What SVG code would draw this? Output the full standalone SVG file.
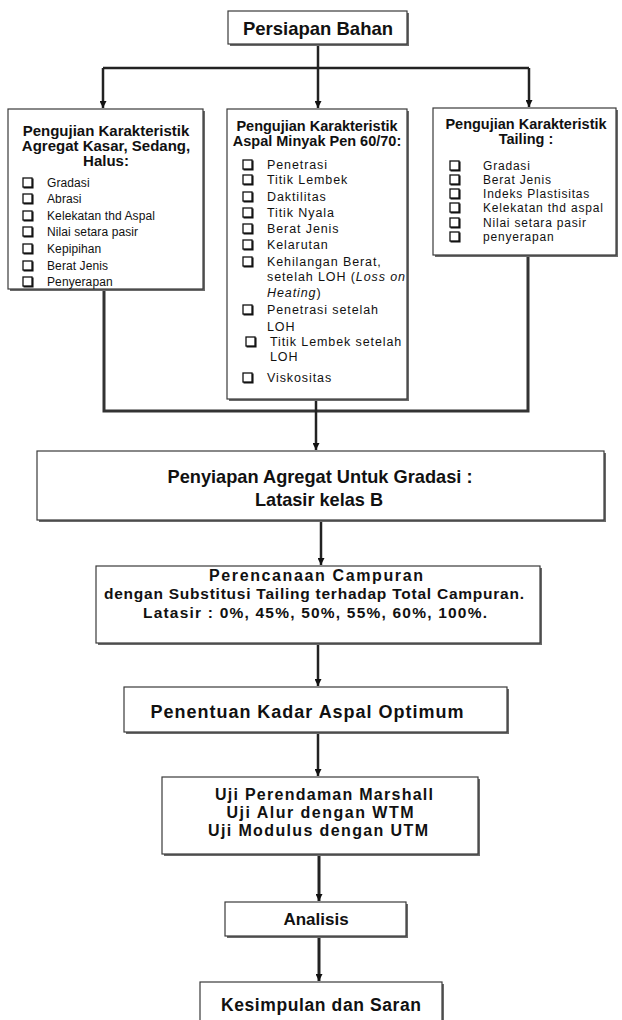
<svg xmlns="http://www.w3.org/2000/svg" width="622" height="1020" viewBox="0 0 622 1020">
<style>
.box{fill:#fff;stroke:#3a3a3a;stroke-width:1.2}
.sh{fill:#6a6a6a}
.h{font-family:"Liberation Sans",Arial,sans-serif;font-weight:bold;fill:#111;text-anchor:middle}
.it{font-family:"Liberation Sans",Arial,sans-serif;fill:#111}
.l{font-size:12px;letter-spacing:0.1px}
.m{font-size:12.5px;letter-spacing:0.9px}
.r{font-size:12px;letter-spacing:0.8px}
.ln{fill:none;stroke:#222;stroke-width:2.5}
.cb{fill:none;stroke:#111;stroke-width:1.3}
</style>
<defs>
<marker id="ah" viewBox="0 0 8 8" refX="8" refY="4" markerWidth="7" markerHeight="7" markerUnits="userSpaceOnUse" orient="auto">
<path d="M0,0 L8,4 L0,8 z" fill="#111"/>
</marker>
<g id="cb">
<rect class="cb" x="0" y="0" width="9" height="9"/>
<path d="M0.5 9.8 H9.8 V0.5" fill="none" stroke="#111" stroke-width="1.5"/>
</g>
</defs>

<g id="connectors">
<path class="ln" d="M318 44 V68"/>
<path class="ln" d="M103 68 H529"/>
<path class="ln" d="M103 68 V108" marker-end="url(#ah)"/>
<path class="ln" d="M318 68 V108" marker-end="url(#ah)"/>
<path class="ln" d="M529 68 V107" marker-end="url(#ah)"/>
<path class="ln" d="M104 291 V411 H528 V257" style="stroke:#333;stroke-width:3"/>
<path class="ln" d="M316 400 V450" marker-end="url(#ah)"/>
<path class="ln" d="M321 521 V565" marker-end="url(#ah)"/>
<path class="ln" d="M318 644 V686" marker-end="url(#ah)"/>
<path class="ln" d="M318 733 V776" marker-end="url(#ah)"/>
<path class="ln" d="M319 855 V901" style="stroke-width:3" marker-end="url(#ah)"/>
<path class="ln" d="M319 937 V981" style="stroke-width:3" marker-end="url(#ah)"/>
</g>

<g id="persiapan">
<rect class="sh" x="230" y="13" width="179" height="33"/>
<rect class="box" x="228" y="11" width="179" height="33"/>
<text class="h" x="318" y="35" font-size="19" textLength="150" lengthAdjust="spacingAndGlyphs">Persiapan Bahan</text>
</g>

<g id="agregat">
<rect class="sh" x="10" y="111" width="195" height="180"/>
<rect class="box" x="8" y="109" width="195" height="180"/>
<text class="h" x="106" y="136" font-size="15">Pengujian Karakteristik</text>
<text class="h" x="106" y="151" font-size="15">Agregat Kasar, Sedang,</text>
<text class="h" x="106" y="166" font-size="15">Halus:</text>
<use href="#cb" x="23" y="178"/><text class="it l" x="47" y="187">Gradasi</text>
<use href="#cb" x="23" y="194"/><text class="it l" x="47" y="203">Abrasi</text>
<use href="#cb" x="23" y="211"/><text class="it l" x="47" y="220">Kelekatan thd Aspal</text>
<use href="#cb" x="23" y="227"/><text class="it l" x="47" y="236">Nilai setara pasir</text>
<use href="#cb" x="23" y="244"/><text class="it l" x="47" y="253">Kepipihan</text>
<use href="#cb" x="23" y="261"/><text class="it l" x="47" y="270">Berat Jenis</text>
<use href="#cb" x="23" y="277"/><text class="it l" x="47" y="286">Penyerapan</text>
</g>

<g id="aspal">
<rect class="sh" x="229" y="111" width="180" height="290"/>
<rect class="box" x="227" y="109" width="180" height="290"/>
<text class="h" x="317" y="131" font-size="14.5">Pengujian Karakteristik</text>
<text class="h" x="317" y="146" font-size="14.5">Aspal Minyak Pen 60/70:</text>
<use href="#cb" x="243" y="160"/><text class="it m" x="267" y="169.4">Penetrasi</text>
<use href="#cb" x="243" y="175"/><text class="it m" x="267" y="184.4">Titik Lembek</text>
<use href="#cb" x="243" y="192"/><text class="it m" x="267" y="201.4">Daktilitas</text>
<use href="#cb" x="243" y="208"/><text class="it m" x="267" y="217.4">Titik Nyala</text>
<use href="#cb" x="243" y="224"/><text class="it m" x="267" y="233.4">Berat Jenis</text>
<use href="#cb" x="243" y="240"/><text class="it m" x="267" y="249.4">Kelarutan</text>
<use href="#cb" x="243" y="257"/><text class="it m" x="267" y="266.4">Kehilangan Berat,</text>
<text class="it m" x="267" y="281.4">setelah LOH (<tspan font-style="italic">Loss on</tspan></text>
<text class="it m" x="267" y="297.4"><tspan font-style="italic">Heating</tspan>)</text>
<use href="#cb" x="243" y="305"/><text class="it m" x="267" y="314.4">Penetrasi setelah</text>
<text class="it m" x="267" y="331.4">LOH</text>
<use href="#cb" x="246" y="337"/><text class="it m" x="270" y="346.4">Titik Lembek setelah</text>
<text class="it m" x="270" y="361.4">LOH</text>
<use href="#cb" x="243" y="373"/><text class="it m" x="267" y="382.4">Viskositas</text>
</g>

<g id="tailing">
<rect class="sh" x="435" y="110" width="183" height="147"/>
<rect class="box" x="433" y="108" width="183" height="147"/>
<text class="h" x="526" y="129" font-size="14.5">Pengujian Karakteristik</text>
<text class="h" x="526" y="144" font-size="14.5">Tailing :</text>
<use href="#cb" x="450" y="161"/><text class="it r" x="483" y="170.2">Gradasi</text>
<use href="#cb" x="450" y="175"/><text class="it r" x="483" y="184.2">Berat Jenis</text>
<use href="#cb" x="450" y="189"/><text class="it r" x="483" y="198.2">Indeks Plastisitas</text>
<use href="#cb" x="450" y="203"/><text class="it r" x="483" y="212.2">Kelekatan thd aspal</text>
<use href="#cb" x="450" y="218"/><text class="it r" x="483" y="227.2">Nilai setara pasir</text>
<use href="#cb" x="450" y="232"/><text class="it r" x="483" y="241.2">penyerapan</text>
</g>

<g id="penyiapan">
<rect class="sh" x="39" y="453" width="567" height="69"/>
<rect class="box" x="37" y="451" width="567" height="69"/>
<text class="h" x="320" y="483" font-size="19" textLength="305" lengthAdjust="spacingAndGlyphs">Penyiapan Agregat Untuk Gradasi :</text>
<text class="h" x="319" y="506" font-size="19" textLength="128" lengthAdjust="spacingAndGlyphs">Latasir kelas B</text>
</g>

<g id="perencanaan">
<rect class="sh" x="98" y="568" width="444" height="77"/>
<rect class="box" x="96" y="566" width="444" height="77"/>
<text class="h" x="316" y="581" font-size="16" textLength="214" lengthAdjust="spacing">Perencanaan Campuran</text>
<text class="h" x="314" y="598.5" font-size="15.5" textLength="420" lengthAdjust="spacing">dengan Substitusi Tailing terhadap Total Campuran.</text>
<text class="h" x="315" y="617.5" font-size="15.5" textLength="344" lengthAdjust="spacing">Latasir : 0%, 45%, 50%, 55%, 60%, 100%.</text>
</g>

<g id="penentuan">
<rect class="sh" x="126" y="689" width="383" height="45"/>
<rect class="box" x="124" y="687" width="383" height="45"/>
<text class="h" x="307" y="718" font-size="18" textLength="313" lengthAdjust="spacing">Penentuan Kadar Aspal Optimum</text>
</g>

<g id="uji">
<rect class="sh" x="164" y="779" width="316" height="77"/>
<rect class="box" x="162" y="777" width="316" height="77"/>
<text class="h" x="324" y="800" font-size="16" textLength="218" lengthAdjust="spacing">Uji Perendaman Marshall</text>
<text class="h" x="320" y="818" font-size="16" textLength="187" lengthAdjust="spacing">Uji Alur dengan WTM</text>
<text class="h" x="318" y="836" font-size="16" textLength="220" lengthAdjust="spacing">Uji Modulus dengan UTM</text>
</g>

<g id="analisis">
<rect class="sh" x="227" y="904" width="181" height="34"/>
<rect class="box" x="225" y="902" width="181" height="34"/>
<text class="h" x="316" y="925" font-size="17">Analisis</text>
</g>

<g id="kesimpulan">
<rect class="sh" x="202" y="984" width="242" height="50"/>
<rect class="box" x="200" y="982" width="242" height="50"/>
<text class="h" x="321" y="1011" font-size="17.5" textLength="200" lengthAdjust="spacing">Kesimpulan dan Saran</text>
</g>
</svg>
